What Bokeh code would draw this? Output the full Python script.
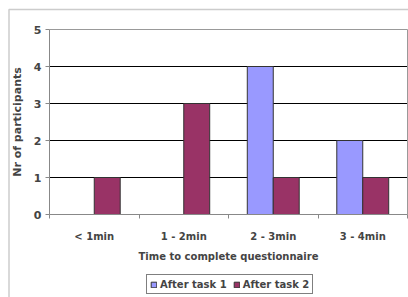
from bokeh.plotting import figure
from bokeh.models import ColumnDataSource, FixedTicker, Range1d, Legend, LegendItem, BoxAnnotation
from bokeh.embed import file_html
from bokeh.resources import INLINE

categories = ["< 1min", "1 - 2min", "2 - 3min", "3 - 4min"]
after_task1 = [0, 0, 4, 2]
after_task2 = [1, 3, 1, 1]
series_names = ["After task 1", "After task 2"]
y_ticks = [0, 1, 2, 3, 4, 5]
y_max = 5
colors = ["#9999FF", "#993366"]

FONT = "DejaVu Sans"

# layout (pixels): the frame covers the whole canvas, data origin placed inside it
W, H = 408, 297
X0_PX, X_UNIT = 49, 89.5
Y0_PX, Y_UNIT = 214, 37.0
n = len(categories)
x_range = Range1d(-X0_PX / X_UNIT, (W - X0_PX) / X_UNIT)
y_range = Range1d(-(H - Y0_PX) / Y_UNIT, Y0_PX / Y_UNIT)

p = figure(width=W, height=H, output_backend="svg", toolbar_location=None, title=None,
           x_range=x_range, y_range=y_range,
           min_border_left=0, min_border_top=0, min_border_right=0, min_border_bottom=0)
p.outline_line_color = None
p.xgrid.visible = False
p.ygrid.visible = False

# outer chart border
outer = BoxAnnotation(left=(8.5 - X0_PX) / X_UNIT, top=(Y0_PX - 9) / Y_UNIT, right=100, bottom=-100,
                      fill_alpha=0, line_color="#555555", line_width=1.5)
p.add_layout(outer)

# gridlines and plot-area border
grid_y = y_ticks[1:-1]
p.segment(x0=[0] * len(grid_y), x1=[n] * len(grid_y), y0=grid_y, y1=grid_y, line_color="#000000", line_width=1)
p.segment(x0=[0, n], x1=[n, n], y0=[y_max, 0], y1=[y_max, y_max], line_color="#999999", line_width=1)

centers = [i + 0.5 for i in range(n)]
w = 0.29
src1 = ColumnDataSource(dict(x=[c - w / 2 for c in centers], top=after_task1))
src2 = ColumnDataSource(dict(x=[c + w / 2 for c in centers], top=after_task2))
r1 = p.vbar(x="x", top="top", width=w, source=src1, fill_color=colors[0], line_color="#333333", line_width=1)
r2 = p.vbar(x="x", top="top", width=w, source=src2, fill_color=colors[1], line_color="#333333", line_width=1)

# y axis
ya = p.yaxis[0]
ya.fixed_location = 0
ya.bounds = (0, y_max)
ya.ticker = FixedTicker(ticks=y_ticks)
ya.axis_line_color = "#888888"
ya.major_tick_line_color = "#888888"
ya.major_tick_out = 4
ya.major_tick_in = 0
ya.minor_tick_line_color = None
ya.major_label_text_font = FONT
ya.major_label_text_font_style = "bold"
ya.major_label_text_font_size = "11px"
ya.major_label_standoff = 4
ya.axis_label = "Nr of participants"
ya.axis_label_text_font = FONT
ya.axis_label_text_font_style = "bold"
ya.axis_label_text_font_size = "11px"
ya.axis_label_standoff = 7

# x axis
xa = p.xaxis[0]
xa.fixed_location = 0
xa.bounds = (0, n)
xa.ticker = FixedTicker(ticks=centers, minor_ticks=list(range(n + 1)))
xa.major_label_overrides = {c: lab for c, lab in zip(centers, categories)}
xa.axis_line_color = "#888888"
xa.major_tick_line_color = None
xa.minor_tick_line_color = "#888888"
xa.minor_tick_out = 4
xa.minor_tick_in = 0
xa.major_label_text_font = FONT
xa.major_label_text_font_style = "bold"
xa.major_label_text_font_size = "10px"
xa.major_label_standoff = 10
xa.axis_label = "Time to complete questionnaire"
xa.axis_label_text_font = FONT
xa.axis_label_text_font_style = "bold"
xa.axis_label_text_font_size = "10px"
xa.axis_label_standoff = 6

legend = Legend(items=[LegendItem(label=series_names[0], renderers=[r1]),
                       LegendItem(label=series_names[1], renderers=[r2])],
                orientation="horizontal", location=(146, 3))
legend.glyph_width = 7
legend.glyph_height = 7
legend.label_text_font = FONT
legend.label_text_font_style = "bold"
legend.label_text_font_size = "10px"
legend.label_standoff = 3
legend.spacing = 6
legend.padding = 3
legend.margin = 0
legend.border_line_color = "#000000"
legend.border_line_width = 1
legend.background_fill_color = "white"
legend.label_height = 12
p.add_layout(legend, "center")

open("out.html", "w").write(file_html(p, INLINE))
